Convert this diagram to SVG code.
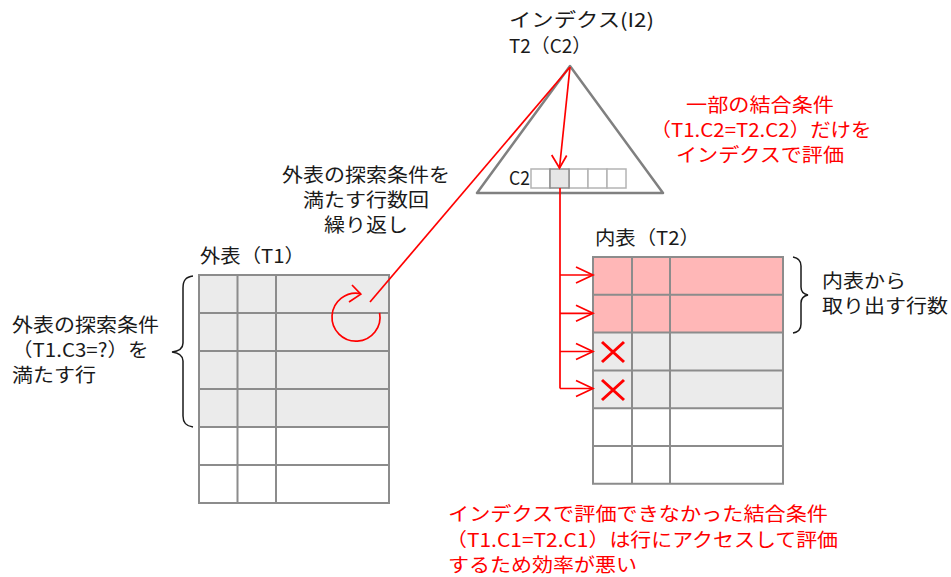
<svg xmlns="http://www.w3.org/2000/svg" width="951" height="577" viewBox="0 0 951 577">
<style>
text{font-family:"Noto Sans CJK JP","Noto Sans",sans-serif;font-size:19px;fill:#1a1a1a}
.r{fill:#ff0000}
.grid{stroke:#8c8c8c;stroke-width:2;fill:none}
.gray{fill:#ebebeb}
.pink{fill:#ffb7b7}
.red{stroke:#ff0000;stroke-width:1.7;fill:none}
.brace{stroke:#1a1a1a;stroke-width:1.5;fill:none}
</style>
<rect width="951" height="577" fill="#ffffff"/>

<g id="index">
<polygon points="570,66 477,193 663,193" fill="#ffffff" stroke="#808080" stroke-width="2.5" stroke-linejoin="round"/>
<g stroke="#b4b4b4" stroke-width="1.5" fill="#ffffff">
<rect x="531" y="169" width="19" height="19"/>
<rect x="569" y="169" width="19" height="19"/>
<rect x="588" y="169" width="19" height="19"/>
<rect x="607" y="169" width="19" height="19"/>
</g>
<rect x="550" y="169" width="19" height="19" fill="#e6e6e6" stroke="#8c8c8c" stroke-width="1.5"/>
<text x="509" y="185" textLength="21" lengthAdjust="spacingAndGlyphs">C2</text>
<text x="509" y="27" textLength="145" lengthAdjust="spacingAndGlyphs">インデクス(I2)</text>
<text x="509" y="53" textLength="82" lengthAdjust="spacingAndGlyphs">T2（C2）</text>
</g>

<g id="outer-table">
<rect x="199" y="275" width="190" height="152" class="gray"/>
<rect x="199" y="427" width="190" height="76" fill="#ffffff"/>
<path class="grid" d="M199,275H389V503H199Z M199,313H389 M199,351H389 M199,389H389 M199,427H389 M199,465H389 M237.5,275V503 M276,275V503"/>
<text x="200" y="263" textLength="105" lengthAdjust="spacingAndGlyphs">外表（T1）</text>
</g>

<g id="inner-table">
<rect x="593" y="257" width="190" height="75.6" class="pink"/>
<rect x="593" y="332.6" width="190" height="75.6" class="gray"/>
<rect x="593" y="408.2" width="190" height="75.6" fill="#ffffff"/>
<path class="grid" d="M593,257H783V483.8H593Z M593,294.8H783 M593,332.6H783 M593,370.4H783 M593,408.2H783 M593,446H783 M632,257V483.8 M670,257V483.8"/>
<text x="595" y="245" textLength="105" lengthAdjust="spacingAndGlyphs">内表（T2）</text>
<g stroke="#ff0000" stroke-width="3" fill="none">
<path d="M602,342L624,362M624,342L602,362"/>
<path d="M602,380L624,400M624,380L602,400"/>
</g>
</g>

<g id="outer-condition">
<path class="brace" d="M193,276C186,277 183,280 183,288V343C183,348 180,351 172,352C180,353 183,356 183,361V416C183,423 186,426 193,427"/>
<text x="12" y="332" textLength="147" lengthAdjust="spacingAndGlyphs">外表の探索条件</text>
<text x="12" y="357" textLength="136.5" lengthAdjust="spacingAndGlyphs">（T1.C3=?）を</text>
<text x="12" y="382" textLength="84" lengthAdjust="spacingAndGlyphs">満たす行</text>
</g>

<g id="inner-rows">
<path class="brace" d="M793,257C799,258 801,261 801,266V287C801,291 803,294 808,295C803,296 801,299 801,303V324C801,329 799,332 793,333"/>
<text x="822" y="288" textLength="84" lengthAdjust="spacingAndGlyphs">内表から</text>
<text x="822" y="313" textLength="126" lengthAdjust="spacingAndGlyphs">取り出す行数</text>
</g>

<g id="loop-label">
<text x="366" y="182" text-anchor="middle" textLength="168" lengthAdjust="spacingAndGlyphs">外表の探索条件を</text>
<text x="366" y="207" text-anchor="middle" textLength="126" lengthAdjust="spacingAndGlyphs">満たす行数回</text>
<text x="366" y="232" text-anchor="middle" textLength="84" lengthAdjust="spacingAndGlyphs">繰り返し</text>
</g>

<g id="index-note">
<text class="r" x="760" y="112" text-anchor="middle" textLength="148" lengthAdjust="spacingAndGlyphs">一部の結合条件</text>
<text class="r" x="761" y="137" text-anchor="middle" textLength="221" lengthAdjust="spacingAndGlyphs">（T1.C2=T2.C2）だけを</text>
<text class="r" x="760" y="162" text-anchor="middle" textLength="168" lengthAdjust="spacingAndGlyphs">インデクスで評価</text>
</g>

<g id="bottom-note">
<text class="r" x="448" y="521" textLength="380" lengthAdjust="spacingAndGlyphs">インデクスで評価できなかった結合条件</text>
<text class="r" x="446" y="547" textLength="392" lengthAdjust="spacingAndGlyphs">（T1.C1=T2.C1）は行にアクセスして評価</text>
<text class="r" x="448" y="572" textLength="189" lengthAdjust="spacingAndGlyphs">するため効率が悪い</text>
</g>

<g id="connectors">
<path class="red" d="M370,302L570,67"/>
<path class="red" d="M379.6,312.8A24,24 0 1 1 360.5,293.6"/>
<path class="red" d="M352,285L360.8,294.2L349,302"/>
<path class="red" d="M570,67L559.5,168"/>
<path class="red" d="M551.7,155L559.5,168L566.7,155.5"/>
<path class="red" d="M560,188V388.5 M560,275H593 M560,313.3H593 M560,351.5H593 M560,388.5H593"/>
<path class="red" d="M576,267L593,275L576,283 M576,305.3L593,313.3L576,321.3 M576,343.5L593,351.5L576,359.5 M576,380.5L593,388.5L576,396.5"/>
</g>
</svg>
